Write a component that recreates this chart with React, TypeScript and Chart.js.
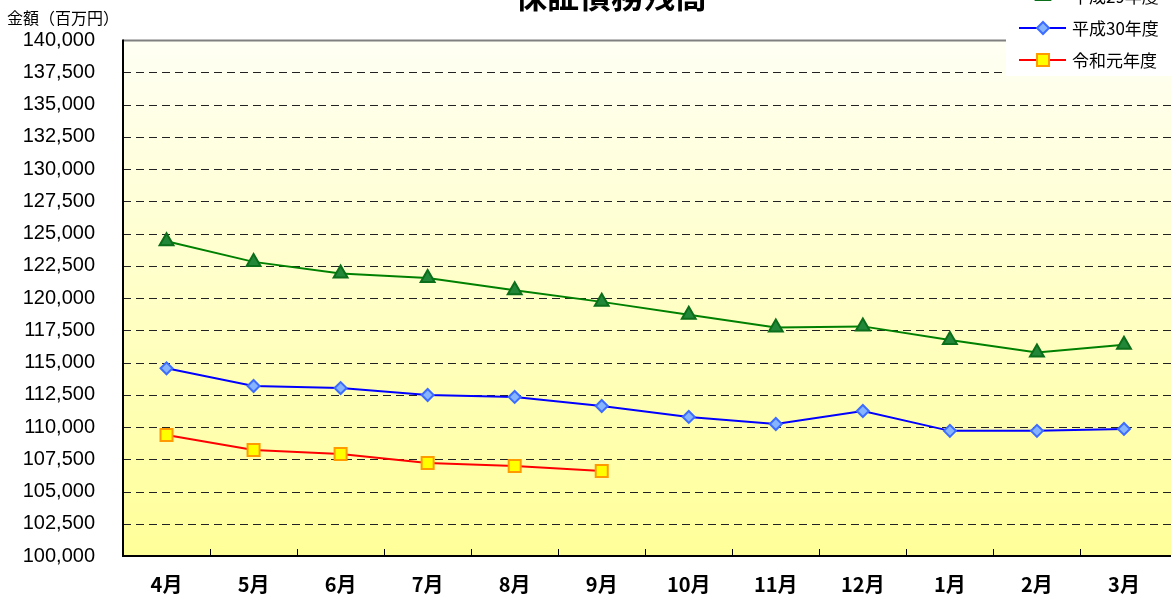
import React, { useEffect, useRef } from 'react';
import { Chart, registerables } from 'chart.js';

Chart.register(...registerables);

const TITLE = '保証債務残高';
const Y_UNIT = '金額（百万円）';
const months = ['4月', '5月', '6月', '7月', '8月', '9月', '10月', '11月', '12月', '1月', '2月', '3月'];
const seriesNames = ['平成29年度', '平成30年度', '令和元年度'];
const h29 = [124400, 122800, 121900, 121550, 120600, 119700, 118700, 117720, 117800, 116750, 115780, 116380];
const h30 = [114550, 113180, 113020, 112480, 112330, 111630, 110780, 110230, 111240, 109700, 109700, 109850];
const r1 = [109380, 108220, 107900, 107210, 106980, 106590];
const Y_MIN = 100000;
const Y_MAX = 140000;
const Y_STEP = 2500;

const JP = '"Noto Sans CJK JP", sans-serif';
const NUM = '"Liberation Sans", Arial, sans-serif';

const CANVAS_W = 1178;
const VIEW_W = 1171;

const styles = [
  { line: '#008000', fill: '#23873a', border: '#0b6e1a', shape: 'triangle', r: 8 },
  { line: '#0000ff', fill: '#86b4ff', border: '#3d6dff', shape: 'rectRot', r: 6 },
  { line: '#ff0000', fill: '#ffff00', border: '#ff9a00', shape: 'rect', r: 8.5 },
];

function drawMarker(ctx: CanvasRenderingContext2D, shape: string, x: number, y: number, r: number, fill: string, stroke: string) {
  ctx.save();
  ctx.beginPath();
  if (shape === 'triangle') {
    ctx.moveTo(x, y - r);
    ctx.lineTo(x + r * 0.866, y + r * 0.5);
    ctx.lineTo(x - r * 0.866, y + r * 0.5);
    ctx.closePath();
  } else if (shape === 'rectRot') {
    ctx.moveTo(x, y - r);
    ctx.lineTo(x + r, y);
    ctx.lineTo(x, y + r);
    ctx.lineTo(x - r, y);
    ctx.closePath();
  } else {
    const s = r * Math.SQRT1_2;
    ctx.rect(x - s, y - s, s * 2, s * 2);
  }
  ctx.fillStyle = fill;
  ctx.fill();
  ctx.lineWidth = 2;
  ctx.strokeStyle = stroke;
  ctx.stroke();
  ctx.restore();
}

const decorPlugin = {
  id: 'decor',
  beforeDatasetsDraw(chart: any) {
    const { ctx, chartArea } = chart;
    const ys = chart.scales.y;
    const xs = chart.scales.x;
    const w = chart.width;
    ctx.save();
    const g = ctx.createLinearGradient(0, chartArea.top, 0, chartArea.bottom);
    g.addColorStop(0, '#fffff4');
    g.addColorStop(1, '#ffff99');
    ctx.fillStyle = g;
    ctx.fillRect(chartArea.left, chartArea.top, w - chartArea.left, chartArea.bottom - chartArea.top);
    for (let v = Y_MIN + Y_STEP; v < Y_MAX; v += Y_STEP) {
      const py = Math.round(ys.getPixelForValue(v)) + 0.5;
      ctx.beginPath();
      ctx.setLineDash([8, 5]);
      ctx.strokeStyle = '#222';
      ctx.lineWidth = 1;
      ctx.moveTo(chartArea.left, py);
      ctx.lineTo(w, py);
      ctx.stroke();
    }
    ctx.setLineDash([]);
    const pt = Math.round(ys.getPixelForValue(Y_MAX)) + 0.5;
    ctx.beginPath();
    ctx.strokeStyle = '#808080';
    ctx.lineWidth = 2;
    ctx.moveTo(chartArea.left, pt);
    ctx.lineTo(w, pt);
    ctx.stroke();
    const pb = Math.round(ys.getPixelForValue(Y_MIN));
    ctx.beginPath();
    ctx.strokeStyle = '#000';
    ctx.lineWidth = 2;
    ctx.moveTo(chartArea.left, pt - 1);
    ctx.lineTo(chartArea.left, pb);
    ctx.lineTo(w, pb);
    ctx.stroke();
    ctx.lineWidth = 1;
    for (let i = 1; i < months.length; i++) {
      const px = Math.round((xs.getPixelForValue(i - 1) + xs.getPixelForValue(i)) / 2) + 0.5;
      ctx.beginPath();
      ctx.moveTo(px, pb);
      ctx.lineTo(px, pb - 7);
      ctx.stroke();
    }
    ctx.restore();
  },
  afterDraw(chart: any) {
    const { ctx } = chart;
    ctx.save();
    ctx.fillStyle = '#000';
    ctx.font = `bold 32px ${JP}`;
    ctx.textAlign = 'center';
    ctx.textBaseline = 'middle';
    ctx.fillText(TITLE, 611, -4);
    ctx.font = `16px ${JP}`;
    ctx.textAlign = 'left';
    ctx.fillText(Y_UNIT, 7, 18);
    ctx.fillStyle = '#ffffff';
    ctx.fillRect(1006, 0, chart.width - 1006, 76);
    const rows = [-4, 28, 60];
    seriesNames.forEach((name, i) => {
      const s = styles[i];
      const y = rows[i];
      ctx.beginPath();
      ctx.strokeStyle = s.line;
      ctx.lineWidth = 2;
      ctx.moveTo(1019, y);
      ctx.lineTo(1066, y);
      ctx.stroke();
      drawMarker(ctx, s.shape, 1043, y, s.r, s.fill, s.border);
      ctx.fillStyle = '#000';
      ctx.font = `17px ${JP}`;
      ctx.textAlign = 'left';
      ctx.textBaseline = 'middle';
      ctx.fillText(name, 1072, y + 1);
    });
    ctx.restore();
  },
};

export default function App() {
  const ref = useRef<HTMLCanvasElement | null>(null);
  useEffect(() => {
    if (!ref.current) return;
    const data = [h29, h30, r1];
    const chart = new Chart(ref.current, {
      type: 'line',
      data: {
        labels: months,
        datasets: data.map((d, i) => ({
          label: seriesNames[i],
          data: d,
          borderColor: styles[i].line,
          borderWidth: 2,
          backgroundColor: styles[i].fill,
          pointStyle: styles[i].shape as any,
          pointRadius: styles[i].r,
          pointBackgroundColor: styles[i].fill,
          pointBorderColor: styles[i].border,
          pointBorderWidth: 2,
          tension: 0,
          fill: false,
        })),
      },
      options: {
        animation: false,
        responsive: false,
        layout: { padding: { top: 40, left: 0, right: 0, bottom: 0 } },
        plugins: {
          legend: { display: false },
          title: { display: false },
          tooltip: { enabled: false },
        },
        scales: {
          x: {
            type: 'category',
            offset: true,
            grid: { display: false, drawTicks: false },
            border: { display: false },
            ticks: {
              padding: 16,
              color: '#000',
              font: { family: JP, size: 20, weight: 'bold' },
              maxRotation: 0,
              autoSkip: false,
            },
            afterFit: (s: any) => { s.height = 44; s.paddingLeft = 0; s.paddingRight = 0; },
          },
          y: {
            min: Y_MIN,
            max: Y_MAX,
            grid: { display: false, drawTicks: false },
            border: { display: false },
            ticks: {
              stepSize: Y_STEP,
              padding: 28,
              color: '#000',
              font: { family: NUM, size: 20 },
              callback: (v: any) => Number(v).toLocaleString('en-US'),
            },
            afterFit: (s: any) => { s.width = 123; },
          },
        },
      },
      plugins: [decorPlugin],
    });
    return () => chart.destroy();
  }, []);
  return (
    <div style={{ position: 'absolute', left: 0, top: 0, width: VIEW_W, height: 600, overflow: 'hidden', background: '#fff' }}>
      <canvas ref={ref} width={CANVAS_W} height={600} style={{ display: 'block' }} />
    </div>
  );
}
